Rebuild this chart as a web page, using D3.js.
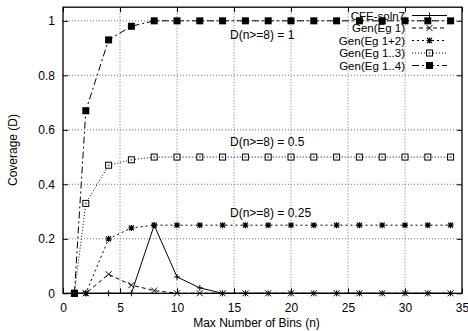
<!DOCTYPE html>
<html><head><meta charset="utf-8">
<script src="https://cdn.jsdelivr.net/npm/d3@7"></script>
<style>body{margin:0;background:#fff}svg{display:block}text{font-family:"Liberation Sans",Arial,sans-serif;font-size:12px;fill:#000}</style>
</head><body><svg id="c" width="468" height="331"></svg>
<script>
const xs = [1,2,4,6,8,10,12,14,16,18,20,22,24,26,28,30,32,34];
const cfe   = [0,0,0,0,0.25,0.06,0.02,0,0,0,0,0,0,0,0,0,0,0];
const eg1   = [0,0,0.07,0.03,0.01,0,0,0,0,0,0,0,0,0,0,0,0,0];
const eg12  = [0,0,0.2,0.24,0.25,0.25,0.25,0.25,0.25,0.25,0.25,0.25,0.25,0.25,0.25,0.25,0.25,0.25];
const eg13  = [0,0.33,0.47,0.49,0.5,0.5,0.5,0.5,0.5,0.5,0.5,0.5,0.5,0.5,0.5,0.5,0.5,0.5];
const eg14  = [0,0.67,0.93,0.98,1,1,1,1,1,1,1,1,1,1,1,1,1,1];
const seriesNames = ["CFE-soln7","Gen(Eg 1)","Gen(Eg 1+2)","Gen(Eg 1..3)","Gen(Eg 1..4)"];
const xTicks = [0,5,10,15,20,25,30,35];
const yTicks = [0,0.2,0.4,0.6,0.8,1];
const annotations = [{x:15, y:1, t:"D(n>=8) = 1"},{x:15,y:0.5,t:"D(n>=8) = 0.5"},{x:15,y:0.25,t:"D(n>=8) = 0.25"}];

const svg = d3.select("#c");
const L=63, R=462, T=7.2, B=293.3;
const x = d3.scaleLinear().domain([0,35]).range([L,R]);
const y = d3.scaleLinear().domain([0,1.05]).range([B,T]);

// grid
const g = svg.append("g");
g.selectAll(".gx").data(xTicks.filter(d=>d>0&&d<35)).enter().append("line")
 .attr("x1",d=>x(d)).attr("x2",d=>x(d)).attr("y1",B).attr("y2",T)
 .attr("stroke","#777").attr("stroke-width",1).attr("stroke-dasharray","1,2");
g.selectAll(".gy").data(yTicks.filter(d=>d>0)).enter().append("line")
 .attr("x1",L).attr("x2",R).attr("y1",d=>y(d)).attr("y2",d=>y(d))
 .attr("stroke","#777").attr("stroke-width",1).attr("stroke-dasharray","1,2");

// axes (ticks inward)
const ax = svg.append("g");
ax.append("g").attr("transform",`translate(0,${B})`).call(d3.axisBottom(x).tickValues(xTicks).tickSize(-5).tickPadding(10).tickFormat(d3.format("d")))
  .call(s=>{s.select(".domain").remove(); s.selectAll("text").style("font-size","12px").style("font-family","Liberation Sans, Arial")});
ax.append("g").attr("transform",`translate(${L},0)`).call(d3.axisLeft(y).tickValues(yTicks).tickSize(-5).tickPadding(8).tickFormat(d=>d===0||d===1?String(d):d3.format(".1f")(d)))
  .call(s=>{s.select(".domain").remove(); s.selectAll("text").style("font-size","12px").style("font-family","Liberation Sans, Arial")});
ax.append("g").attr("transform",`translate(0,${T})`).call(d3.axisTop(x).tickValues(xTicks).tickSize(-5).tickFormat(""))
  .call(s=>s.select(".domain").remove());
ax.append("g").attr("transform",`translate(${R},0)`).call(d3.axisRight(y).tickValues(yTicks).tickSize(-5).tickFormat(""))
  .call(s=>s.select(".domain").remove());
svg.append("rect").attr("x",L).attr("y",T).attr("width",R-L).attr("height",B-T)
  .attr("fill","none").attr("stroke","#000").attr("stroke-width",1.3);

// titles
svg.append("text").attr("x",(L+R)/2-6).attr("y",327).attr("text-anchor","middle").text("Max Number of Bins (n)");
svg.append("text").attr("transform","translate(17,150) rotate(-90)").attr("text-anchor","middle").text("Coverage (D)");

// annotations
svg.selectAll(".ann").data(annotations).enter().append("text")
  .attr("x",d=>x(d.x)-4).attr("y",(d,i)=>[39,146,217][i]).text(d=>d.t);

// markers
function marker(sel, type){
  if(type==="plus"){ sel.append("path").attr("d","M-3,0H3M0,-3V3").attr("stroke","#000").attr("stroke-width",1).attr("fill","none"); }
  else if(type==="x"){ sel.append("path").attr("d","M-3,-3L3,3M-3,3L3,-3").attr("stroke","#000").attr("stroke-width",1).attr("fill","none"); }
  else if(type==="star"){ sel.append("path").attr("d","M-3,0H3M0,-3V3M-2.5,-2.5L2.5,2.5M-2.5,2.5L2.5,-2.5").attr("stroke","#000").attr("stroke-width",1.2).attr("fill","none");
    sel.append("rect").attr("x",-1.5).attr("y",-1.5).attr("width",3).attr("height",3).attr("fill","#000"); }
  else if(type==="osq"){ sel.append("rect").attr("x",-3).attr("y",-3).attr("width",6).attr("height",6).attr("fill","#fff").attr("stroke","#000").attr("stroke-width",1);
    sel.append("rect").attr("x",-1).attr("y",-1).attr("width",2).attr("height",2).attr("fill","#888"); }
  else if(type==="fsq"){ sel.append("rect").attr("x",-3.5).attr("y",-3.5).attr("width",7).attr("height",7).attr("fill","#000"); }
}
const series = [
  {name:seriesNames[0], vals:cfe,  dash:null,      m:"plus"},
  {name:seriesNames[1], vals:eg1,  dash:"4,3",     m:"x"},
  {name:seriesNames[2], vals:eg12, dash:"2,3",     m:"star"},
  {name:seriesNames[3], vals:eg13, dash:"1,2",     m:"osq"},
  {name:seriesNames[4], vals:eg14, dash:"7,3,2,3", m:"fsq"}
];
const line = d3.line().x(d=>x(d[0])).y(d=>y(d[1]));

// legend
const legY = [15.5,28,40.5,53,65.5];
series.forEach((s,i)=>{
  svg.append("text").attr("x",405).attr("y",legY[i]+4).attr("text-anchor","end").style("font-size","11.5px").text(s.name);
  svg.append("line").attr("x1",412).attr("x2",447).attr("y1",legY[i]).attr("y2",legY[i])
    .attr("stroke","#000").attr("stroke-width",1).attr("stroke-dasharray",s.dash);
  marker(svg.append("g").attr("transform",`translate(429.5,${legY[i]})`), s.m);
});

series.forEach(s=>{
  const pts = xs.map((d,i)=>[d,s.vals[i]]);
  svg.append("path").datum(pts).attr("d",line).attr("fill","none").attr("stroke","#000")
    .attr("stroke-width",1).attr("stroke-dasharray",s.dash);
  pts.forEach(p=>marker(svg.append("g").attr("transform",`translate(${x(p[0])},${y(p[1])})`), s.m));
});
</script></body></html>
